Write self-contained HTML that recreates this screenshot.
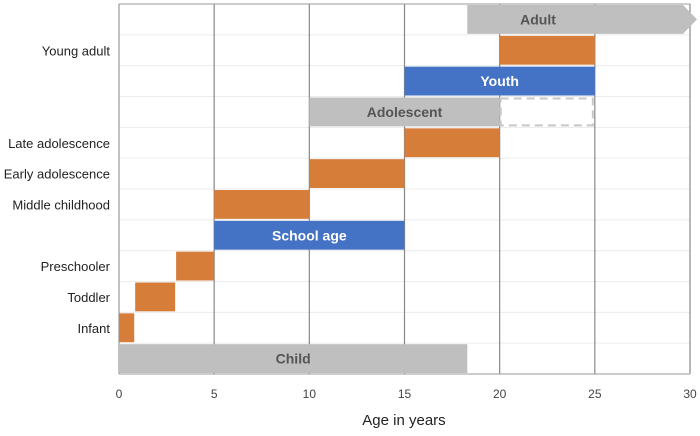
<!DOCTYPE html>
<html><head><meta charset="utf-8"><style>
body{margin:0;background:#fff;width:700px;height:431px;overflow:hidden}
svg text{font-family:"Liberation Sans",sans-serif}
</style></head><body>
<svg width="700" height="431">
<g id="grid"></g><g id="bars"></g><g id="labels"></g><g id="ticks"></g>
<text x="404" y="425" text-anchor="middle" font-size="15" fill="#222">Age in years</text>
</svg>
<script>
const rowNames=["Adult","Young adult","Youth","Adolescent","Late adolescence","Early adolescence","Middle childhood","School age","Preschooler","Toddler","Infant","Child"];
const starts=[18.3,20,15,10,15,10,5,5,3,0.85,0,0];
const ends=[30,25,25,20,20,15,10,15,5,2.95,0.8,18.3];
const kinds=["gray","orange","blue","gray","orange","orange","orange","blue","orange","orange","orange","gray"];
const inBarLabel=["Adult","","Youth","Adolescent","","","","School age","","","","Child"];
const sideLabel=["","Young adult","","","Late adolescence","Early adolescence","Middle childhood","","Preschooler","Toddler","Infant",""];
const xTicks=[0,5,10,15,20,25,30];
const x0=119,x1=690,yTop=4,yBot=374,rh=(yBot-yTop)/rowNames.length;
const X=v=>x0+(x1-x0)*v/30, Y=i=>yTop+i*rh;
const NS="http://www.w3.org/2000/svg";
function mk(p,t,a){const e=document.createElementNS(NS,t);for(const k in a)e.setAttribute(k,a[k]);p.appendChild(e);return e;}
const G=document.getElementById('grid'),B=document.getElementById('bars'),L=document.getElementById('labels'),T=document.getElementById('ticks');
for(let i=1;i<rowNames.length;i++){const l=mk(G,'line',{x1:x0,x2:x1,y1:Y(i),y2:Y(i),stroke:'#ececec'});

}
xTicks.forEach(t=>{const l=mk(G,'line',{x1:X(t),x2:X(t),y1:yTop,y2:yBot,stroke:t==0?'#999':'#888','stroke-width':1.2});


const tx=mk(T,'text',{x:X(t),y:398,'text-anchor':'middle','font-size':12,fill:'#444'});tx.textContent=t;

});
const top2=mk(G,'line',{x1:x0,x2:x1,y1:yTop,y2:yTop,stroke:'#999'});


const ax=mk(G,'line',{x1:x0,x2:x1,y1:yBot,y2:yBot,stroke:'#999'});


const col={gray:'#bfbfbf',orange:'#d67d3a',blue:'#4472c4'};
rowNames.forEach((n,i)=>{
 const y=Y(i)+1,h=rh-2,xa=X(starts[i]),xb=X(ends[i]);
 let el;
 if(n==="Adult"){const xe=xb-7;el=mk(B,'polygon',{points:`${xa},${y} ${xe},${y} ${xe+14},${y+h/2} ${xe},${y+h} ${xa},${y+h}`,fill:col.gray});}
 else el=mk(B,'rect',{x:xa,y:y,width:xb-xa,height:h,fill:col[kinds[i]]});
 
 
 if(n==="Adolescent"){const d=mk(B,'rect',{x:X(20)+1,y:y+1,width:X(25)-X(20)-3,height:h-2,fill:'none',stroke:'#c8c8c8','stroke-width':2,'stroke-dasharray':'8,5'});
 
 }
 if(inBarLabel[i]){const t=mk(L,'text',{x:n==="Adult"?538:(xa+xb)/2,y:y+h/2+5,'text-anchor':'middle','font-size':14,'font-weight':'bold',fill:kinds[i]=='blue'?'#fff':'#555'});t.textContent=inBarLabel[i];
 
 }
 if(sideLabel[i]){const t=mk(L,'text',{x:110,y:y+h/2+5,'text-anchor':'end','font-size':13,fill:'#222'});t.textContent=sideLabel[i];
 
 }
});
</script>
</body></html>
